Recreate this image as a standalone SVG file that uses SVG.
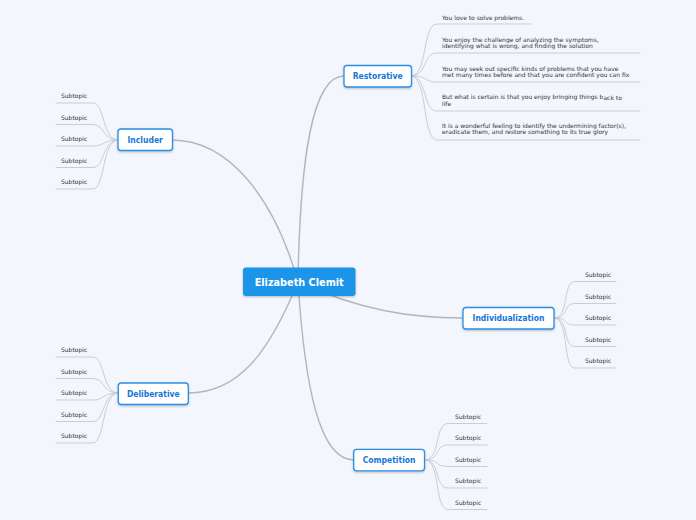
<svg xmlns="http://www.w3.org/2000/svg" width="696" height="520" viewBox="0 0 696 520">
<defs>
<filter id="sh" x="-20%" y="-30%" width="140%" height="170%">
<feDropShadow dx="0" dy="1" stdDeviation="0.8" flood-color="#000" flood-opacity="0.25"/>
</filter>
<style>
.main{fill:none;stroke:#b4b6bf;stroke-width:1.4;stroke-linecap:round}
.sub{fill:none;stroke:#cbcdd3;stroke-width:1;stroke-linecap:round}
.node{fill:#fff;stroke:#2a8ee6;stroke-width:1.3}
.nt{font-family:"DejaVu Sans Condensed","DejaVu Sans",sans-serif;font-weight:bold;font-size:8.5px;fill:#1676d6;text-anchor:middle}
.ct{font-family:"DejaVu Sans Condensed","DejaVu Sans",sans-serif;font-weight:bold;font-size:10.8px;fill:#fff;text-anchor:middle}
.st{font-family:"DejaVu Sans",sans-serif;font-size:6px;fill:#333}
</style>
</defs>
<rect width="696" height="520" fill="#f3f6fd"/>
<g id="connectors">
<path class="main" d="M298,282 C300,160 312,76 344,76"/>
<path class="main" d="M298,282 C275,200 230,140 172,140"/>
<path class="main" d="M298,282 C360,310 410,318 463,318"/>
<path class="main" d="M298,282 C270,350 240,393 188,393"/>
<path class="main" d="M298,282 C305,390 320,460 354,460"/>
<!-- Restorative subtopics -->
<path class="sub" d="M411,76 C428,76 422,24 437,24 H531"/>
<path class="sub" d="M411,76 C428,76 422,53 437,53 H640"/>
<path class="sub" d="M411,76 C428,76 424,82 437,82 H640"/>
<path class="sub" d="M411,76 C428,76 422,111 437,111 H640"/>
<path class="sub" d="M411,76 C428,76 422,140 437,140 H640"/>
<!-- Includer subtopics -->
<path class="sub" d="M118,140 C102,140 105,103 93,103 H56"/>
<path class="sub" d="M118,140 C102,140 105,124.5 93,124.5 H56"/>
<path class="sub" d="M118,140 C102,140 105,146 93,146 H56"/>
<path class="sub" d="M118,140 C102,140 105,167.5 93,167.5 H56"/>
<path class="sub" d="M118,140 C102,140 105,189 93,189 H56"/>
<!-- Individualization subtopics -->
<path class="sub" d="M554,318 C570,318 562,281.5 575,281.5 H616"/>
<path class="sub" d="M554,318 C570,318 562,303.5 575,303.5 H616"/>
<path class="sub" d="M554,318 C570,318 562,325 575,325 H616"/>
<path class="sub" d="M554,318 C570,318 562,346.5 575,346.5 H616"/>
<path class="sub" d="M554,318 C570,318 562,368 575,368 H616"/>
<!-- Deliberative subtopics -->
<path class="sub" d="M118,393 C102,393 105,357 93,357 H56"/>
<path class="sub" d="M118,393 C102,393 105,378.5 93,378.5 H56"/>
<path class="sub" d="M118,393 C102,393 105,400 93,400 H56"/>
<path class="sub" d="M118,393 C102,393 105,421.5 93,421.5 H56"/>
<path class="sub" d="M118,393 C102,393 105,443 93,443 H56"/>
<!-- Competition subtopics -->
<path class="sub" d="M425,460 C441,460 434,423.5 448,423.5 H487"/>
<path class="sub" d="M425,460 C441,460 434,445 448,445 H487"/>
<path class="sub" d="M425,460 C441,460 434,466.5 448,466.5 H487"/>
<path class="sub" d="M425,460 C441,460 434,488 448,488 H487"/>
<path class="sub" d="M425,460 C441,460 434,509.5 448,509.5 H487"/>
</g>
<g id="central">
<rect x="243" y="267.5" width="112.5" height="28.5" rx="3" fill="#1a95e8" filter="url(#sh)"/>
<text class="ct" x="299.2" y="285.8">Elizabeth Clemit</text>
</g>
<g id="restorative">
<rect class="node" x="344" y="65.5" width="67.5" height="21.5" rx="3" filter="url(#sh)"/>
<text class="nt" x="377.7" y="79.3">Restorative</text>
</g>
<g id="includer">
<rect class="node" x="118" y="129" width="54.5" height="21.5" rx="3" filter="url(#sh)"/>
<text class="nt" x="145.2" y="142.8">Includer</text>
</g>
<g id="individualization">
<rect class="node" x="463" y="307.5" width="91" height="21.5" rx="3" filter="url(#sh)"/>
<text class="nt" x="508.5" y="321.3">Individualization</text>
</g>
<g id="deliberative">
<rect class="node" x="118.3" y="383" width="70" height="21.5" rx="3" filter="url(#sh)"/>
<text class="nt" x="153.3" y="396.8">Deliberative</text>
</g>
<g id="competition">
<rect class="node" x="353.7" y="449.3" width="70.8" height="21.5" rx="3" filter="url(#sh)"/>
<text class="nt" x="389.1" y="463.1">Competition</text>
</g>
<g id="restorative-subtopics">
<text class="st" x="442" y="19.5">You love to solve problems.</text>
<text class="st" x="442" y="41.8">You enjoy the challenge of analyzing the symptoms,</text>
<text class="st" x="442" y="48.4">identifying what is wrong, and finding the solution</text>
<text class="st" x="442" y="70.8">You may seek out specific kinds of problems that you have</text>
<text class="st" x="442" y="77.4">met many times before and that you are confident you can fix</text>
<text class="st" x="442" y="99">But what is certain is that you enjoy bringing things b<tspan dy="1.3">ack to</tspan></text>
<text class="st" x="442" y="106">life</text>
<text class="st" x="442" y="127.8">It is a wonderful feeling to identify the undermining factor(s),</text>
<text class="st" x="442" y="134.4">eradicate them, and restore something to its true glory</text>
</g>
<g id="includer-subtopics">
<text class="st" x="61" y="98">Subtopic</text>
<text class="st" x="61" y="119.5">Subtopic</text>
<text class="st" x="61" y="141">Subtopic</text>
<text class="st" x="61" y="162.6">Subtopic</text>
<text class="st" x="61" y="184.2">Subtopic</text>
</g>
<g id="individualization-subtopics">
<text class="st" x="585" y="276.9">Subtopic</text>
<text class="st" x="585" y="298.5">Subtopic</text>
<text class="st" x="585" y="320">Subtopic</text>
<text class="st" x="585" y="341.6">Subtopic</text>
<text class="st" x="585" y="362.6">Subtopic</text>
</g>
<g id="deliberative-subtopics">
<text class="st" x="61" y="352">Subtopic</text>
<text class="st" x="61" y="373.6">Subtopic</text>
<text class="st" x="61" y="395">Subtopic</text>
<text class="st" x="61" y="416.6">Subtopic</text>
<text class="st" x="61" y="438.3">Subtopic</text>
</g>
<g id="competition-subtopics">
<text class="st" x="455" y="419">Subtopic</text>
<text class="st" x="455" y="440">Subtopic</text>
<text class="st" x="455" y="461.6">Subtopic</text>
<text class="st" x="455" y="483">Subtopic</text>
<text class="st" x="455" y="504.6">Subtopic</text>
</g>
</svg>
